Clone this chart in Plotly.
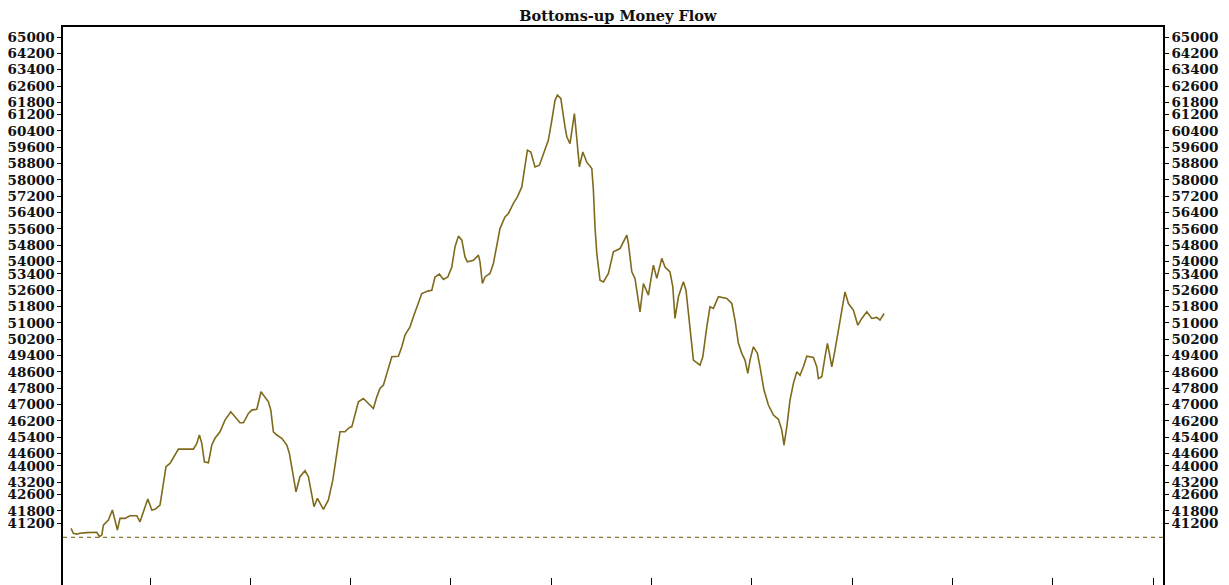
import plotly.graph_objects as go

# ---- data ----
days = [10.5, 11.7, 13.4, 15, 18.4, 23.4, 24.7, 25.9, 26.7, 29.2, 31.2, 32.5, 33.7, 35, 37.5, 40, 43.4, 45, 47.5, 48.9,
        50.9, 52.5, 55, 56.7, 58, 60, 62.5, 64.2, 71.7, 73.4, 74.7, 75.9, 77.2, 79.2, 80.9, 82.5, 85, 87.5, 90.4, 92.5,
        95, 96.7, 99.2, 100.9, 103.4, 105.5, 107.5, 109.2, 110.4, 111.7, 113.4, 115.9, 118.4, 119.7, 121.7, 123, 125,
        127.5, 129.2, 130.9, 132, 133.7, 135, 136.7, 139.2, 141.4, 143.4, 145, 147.5, 149.7,
        150.9, 152.5, 154.2, 156.7, 159.2, 161.7, 163.4, 165, 166.7, 168.4, 170.9, 174.2, 175.9, 177.5, 180, 181.7,
        184.2, 185.9, 189.2, 190.9, 192.5, 194.7, 196.7, 198.9, 200.9, 202.5, 204.2, 205.9, 207.5, 208.7, 211.7, 214.2,
        215, 216.2, 217.5, 220, 221.7, 223.4, 225, 227.5, 229.2, 231.7, 233.7, 235.9, 237.5, 238.7, 240.4, 242.5,
        244.7, 246.7, 249.2, 250.9, 252.5, 253.7, 255.4,
        257.5, 258.4, 260, 261.2, 262.2, 263.4, 264.7, 266.4, 268.4, 270.9, 271.7, 272.5, 273.4, 275, 276.7, 279.2,
        281.7, 285, 287.5, 288.4, 289.2, 290.9, 292.5, 293.7, 295, 296.7, 298, 299.2, 300.4, 301.7, 303.4, 305.9,
        307.5, 310, 311.4, 312.5, 314.2, 316.7, 318, 319.2, 320.5, 321.7, 325, 326.4, 328.4, 330, 331.7, 334.2, 338.4,
        340.9, 342.5, 344.2, 345.9, 347.5, 348.9, 350, 351.7, 353.7, 355, 357, 359.2, 361.7, 364.2, 365.9, 367, 368.4,
        370, 371.7, 373.4, 375, 376.7, 378.4, 381.7, 383.4, 384.2, 385.9, 387.5, 388.7, 389.7, 390.9, 392.5, 394.2,
        395.9, 397.5, 399.2, 401.7, 403.9, 405.9, 408.4, 410.9, 413.4, 415, 417]

money_flow = [40940, 40700, 40660, 40700, 40730, 40750, 40530, 40610, 41100, 41350, 41840, 41260, 40860, 41430, 41430,
              41560, 41560, 41260, 41920, 42380, 41840, 41870, 42080, 43060, 43960, 44120, 44530, 44820, 44820, 45100,
              45510, 45100, 44200, 44150, 45020, 45350, 45670, 46240, 46650, 46400, 46110, 46110, 46570, 46730, 46770,
              47630, 47380, 47140, 46730, 45670, 45510, 45350, 45020, 44610, 43470, 42730, 43470, 43760, 43470, 42650,
              42000, 42410, 42170, 41870, 42330, 43300, 44610, 45670, 45670, 45880,
              45910, 46570, 47140, 47300, 47060, 46810, 47380, 47790, 47950, 48530, 49340, 49370, 49830, 50400, 50810,
              51300, 51950, 52440, 52570, 52600, 53250, 53390, 53130, 53250, 53740, 54720, 55250, 55050, 54230, 53990,
              54070, 54320, 53990, 52930, 53250, 53420, 53910, 54890, 55620, 56190, 56360, 56850, 57170, 57660, 58640,
              59460, 59370, 58640, 58720, 59290, 59950, 60920, 61900, 62150, 61990,
              60600, 60110, 59780, 60600, 61250, 60030, 58640, 59370, 58870, 58560, 57500, 55700, 54400, 53090, 53010,
              53420, 54480, 54640, 55130, 55300, 54890, 53500, 53180, 52440, 51540, 52930, 52600, 52360, 53090, 53830,
              53180, 54160, 53740, 53500, 52770, 51220, 52280, 53010, 52600, 51460, 50000, 49180, 48930, 49340, 50810,
              51790, 51710, 52280, 52200, 51950, 51140, 50000, 49510, 49180, 48530, 49180, 49830, 49510, 48850, 47710,
              46980, 46490, 46280, 45750, 45020, 45910, 47220, 48040, 48610, 48440, 48850, 49370, 49310, 48850, 48280,
              48360, 49340, 50000, 49510, 48850, 49670, 50650, 51790, 52520, 51950, 51630, 50890, 51220, 51540, 51220,
              51270, 51140, 51460]

baseline_value = 40500

y_tick_labels = ["65000", "64200", "63400", "62600", "61800", "61200", "60400", "59600", "58800", "58000",
                 "57200", "56400", "55600", "54800", "54000", "53400", "52600", "51800", "51000", "50200",
                 "49400", "48600", "47800", "47000", "46200", "45400", "44600", "44000", "43200", "42600",
                 "41800", "41200"]
y_tick_values = [int(t) for t in y_tick_labels]

x_range = [6.5, 556.5]
y_range = [38166, 65490]
x_tick_values = [50 + 50.15 * i for i in range(11)]

title_text = "Bottoms-up Money Flow"

# ---- styles ----
LINE_COLOR = "#7f6a1c"
BASE_COLOR = "#8a7430"
FONT = dict(family="DejaVu Serif", size=13.5, color="#111111", weight="bold")

fig = go.Figure()

fig.add_trace(go.Scatter(
    x=days, y=money_flow, mode="lines",
    line=dict(color=LINE_COLOR, width=1.6),
    showlegend=False, hoverinfo="x+y",
))

fig.add_trace(go.Scatter(
    x=x_range, y=[baseline_value, baseline_value], mode="lines",
    line=dict(color=BASE_COLOR, width=1.2, dash="4px,4px"),
    yaxis="y2", showlegend=False, hoverinfo="skip",
))

axis_y_common = dict(
    range=y_range, tickmode="array", tickvals=y_tick_values, ticktext=y_tick_labels,
    ticks="outside", ticklen=4, tickwidth=1, tickcolor="#000",
    showgrid=False, zeroline=False, showline=True, linecolor="#000", linewidth=1.5,
    tickfont=FONT, fixedrange=True, automargin=False,
)

# The page body keeps its default 8px margin, so the figure is sized to the rest of the window.
fig.update_layout(
    width=1221, height=577,
    margin=dict(l=55, r=66, t=19, b=0, autoexpand=False),
    paper_bgcolor="white", plot_bgcolor="white",
    title=dict(text=title_text, x=0.4995, xanchor="center", y=1, yanchor="top",
               yref="container", pad=dict(t=3, b=0, l=0, r=0),
               font=dict(family="DejaVu Serif", size=14.5, color="#111", weight="bold")),
    xaxis=dict(range=x_range, tickmode="array", tickvals=x_tick_values, showticklabels=False,
               ticks="inside", ticklen=7, tickwidth=1, tickcolor="#000",
               showgrid=False, zeroline=False, showline=True, mirror=True,
               linecolor="#000", linewidth=1.5, automargin=False),
    yaxis=dict(side="left", **axis_y_common),
    yaxis2=dict(side="right", overlaying="y", **axis_y_common),
    showlegend=False,
)

fig.write_html("out.html")
